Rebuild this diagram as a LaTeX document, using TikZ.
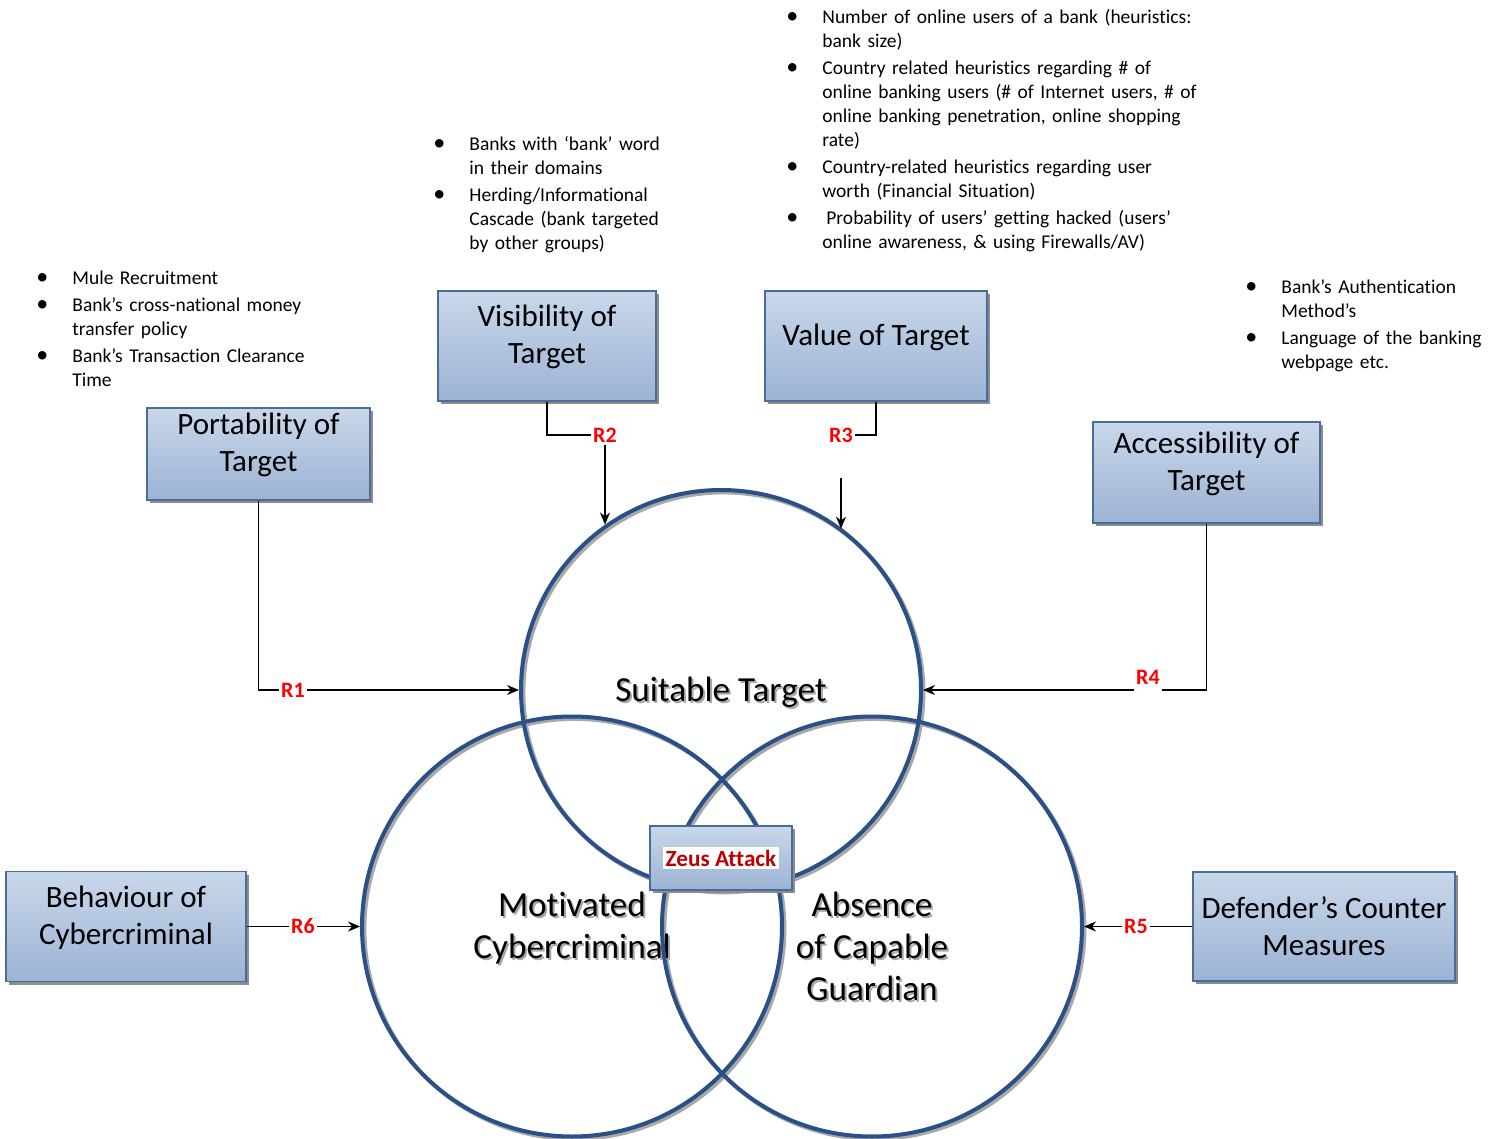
\documentclass[tikz,border=0pt]{standalone}
\usepackage{fontspec}
\setmainfont{Carlito}[Ligatures={NoCommon}]
\usetikzlibrary{arrows.meta,
							calc,
							positioning,
							shadows,
							backgrounds}

\definecolor{boxtop}{HTML}{C9D7EA}
\definecolor{boxbot}{HTML}{9CB3D4}
\definecolor{boxline}{HTML}{4A6C9B}
\definecolor{ringblue}{HTML}{2A5088}
\definecolor{ringshade}{HTML}{A8A8A8}
\definecolor{labred}{HTML}{FF0000}
\definecolor{zeusred}{HTML}{C00000}

% text with a soft grey shadow (circle titles)
\newcommand\shtxt[1]{\rlap{\kern1pt\raisebox{-1pt}{\textcolor{ringshade}{#1}}}#1}
% white patch behind the attack name
\newcommand\zeustag[1]{{\setlength\fboxsep{1.2pt}%
	\colorbox{white}{\textcolor{zeusred}{\bfseries\fontsize{11.6}{14}\selectfont #1}}}}
% bullet lists beside the factor boxes
\newenvironment{hintlist}
	{\begin{list}{{\fontsize{12}{12}\selectfont\textbullet}}{%
		\setlength\leftmargin{18pt}\setlength\labelwidth{18pt}%
		\setlength\labelsep{0pt}\setlength\itemsep{1.5pt}%
		\setlength\parsep{0pt}\setlength\topsep{0pt}%
		\setlength\partopsep{0pt}%
		\renewcommand\makelabel[1]{##1\hfil}}}
	{\end{list}}

\begin{document}
\begin{tikzpicture}[x=0.5pt, y=-0.5pt,
			factor/.style = {draw=boxline, line width=0.6pt,
									 top color=boxtop, bottom color=boxbot,
									 drop shadow={shadow xshift=1.6pt, shadow yshift=-1.6pt,
																fill=black!45, opacity=1},
									 inner sep=0pt},
	factortext/.style = {align=center, font=\fontsize{15.5}{18.6}\selectfont},
				venn/.style = {circle, draw=ringblue, line width=2pt, inner sep=0pt},
	 vennshade/.style = {draw=ringshade, line width=2pt},
		venntext/.style = {align=center, font=\fontsize{17.6}{21}\selectfont},
				rlab/.style = {fill=white, inner sep=1pt, text=labred,
									 font=\fontsize{11}{13}\selectfont\bfseries},
				conn/.style = {line width=0.8pt},
				 arr/.style = {conn, -{Stealth[length=6pt, width=5pt]}},
		 listbox/.style = {anchor=north west, inner sep=0pt, align=left,
									 font=\fontsize{9.75}{12}\selectfont}]
\useasboundingbox (0,0) rectangle (1493,1139);

% notes above the factors
\node [listbox, text width=150pt] (port-l) at (36,260) {\begin{hintlist}
	\item Mule Recruitment
	\item Bank’s cross-national money\newline transfer policy
	\item Bank’s Transaction Clearance\newline Time
	\end{hintlist}};
\node [listbox, text width=130pt] (vis-l) at (433,126) {\begin{hintlist}
	\item Banks with ‘bank’ word\newline in their domains
	\item Herding/Informational\newline Cascade (bank targeted\newline by other groups)
	\end{hintlist}};
\node [listbox, text width=215pt] (val-l) at (786,-1) {\begin{hintlist}
	\item Number of online users of a bank (heuristics:\newline bank size)
	\item Country related heuristics regarding \# of\newline online banking users (\# of Internet users, \# of\newline online banking penetration, online shopping\newline rate)
	\item Country-related heuristics regarding user\newline worth (Financial Situation)
	\item \leavevmode\kern2pt Probability of users’ getting hacked (users’\newline online awareness, \& using Firewalls/AV)
	\end{hintlist}};
\node [listbox, text width=120pt] (acc-l) at (1245,269) {\begin{hintlist}
	\item Bank’s Authentication\newline Method’s
	\item Language of the banking\newline webpage etc.
	\end{hintlist}};

% factor boxes
\node [factor, minimum width=109pt, minimum height=55pt]   (vis)  at (547,346) {};
\node [factor, minimum width=111pt, minimum height=55pt]   (val)  at (876,346) {};
\node [factor, minimum width=111.5pt, minimum height=46pt] (port) at (258.5,454) {};
\node [factor, minimum width=113.5pt, minimum height=50.5pt] (acc) at (1206.5,472.5) {};
\node [factor, minimum width=120pt, minimum height=55pt]   (beh)  at (126,926.5) {};
\node [factor, minimum width=131pt, minimum height=54.5pt] (def)  at (1324,926.5) {};
%
\node [factortext, yshift=4.5pt] (vis-t)  at (vis)  {Visibility of\\Target};
\node [factortext, yshift=4.5pt] (val-t)  at (val)  {Value of Target};
\node [factortext, yshift=4.5pt] (port-t) at (port) {Portability of\\Target};
\node [factortext, yshift=4.5pt] (acc-t)  at (acc)  {Accessibility of\\Target};
\node [factortext, yshift=4.5pt] (beh-t)  at (beh)  {Behaviour of\\Cybercriminal};
\node [factortext]               (def-t)  at (def)  {Defender’s Counter\\Measures};

% circle titles
\node [venntext] (suit-t) at (721,693)   {\shtxt{Suitable Target}};
\node [venntext] (mot-t)  at (572,929)   {\shtxt{Motivated}\\\shtxt{Cybercriminal}};
\node [venntext] (abs-t)  at (872,947.5) {\shtxt{Absence}\\\shtxt{of Capable}\\\shtxt{Guardian}};

% the three circles
\node [venn, minimum size=200pt] (suit) at (721,690)   {};
\node [venn, minimum size=210pt] (mot)  at (572,926.5) {};
\node [venn, minimum size=210pt] (abs)  at (872,926.5) {};
\begin{pgfonlayer}{background}
\draw [vennshade] ([shift={(1.2pt,-1.2pt)}] suit.center) circle (100pt);
\draw [vennshade] ([shift={(1.2pt,-1.2pt)}] mot.center)  circle (105pt);
\draw [vennshade] ([shift={(1.2pt,-1.2pt)}] abs.center)  circle (105pt);
\end{pgfonlayer}

% relation labels
\node [rlab] (r1) at (293,690)    {R1};
\node [rlab] (r2) at (605,435)    {R2};
\node [rlab] (r3) at (841,435)    {R3};
\node [rlab] (r4) at (1148,677)   {R4};
\node [rlab] (r5) at (1136,926.5) {R5};
\node [rlab] (r6) at (303,926.5)  {R6};
\coordinate (r3in) at (841,478);    % <-- loose start of the R3 arrow

\draw [conn] (port.south) |- (r1.west);
\draw [arr]  (r1.east) -- (suit.west);
\draw [conn] (vis.south) |- (r2.west);
\draw [arr]  (r2.south) -- (r2.south |- suit.125.4);
\draw [conn] (val.south) |- (r3.east);
\draw [arr]  (r3in) -- (r3in |- suit.53.1);
\draw [conn] (acc.south) |- (r4.east |- suit.east);
\draw [arr]  (r4.west |- suit.east) -- (suit.east);
\draw [conn] (def.west) -- (r5.east);
\draw [arr]  (r5.west) -- (abs.east);
\draw [conn] (beh.east) -- (r6.west);
\draw [arr]  (r6.east) -- (mot.west);

% the attack in the middle
\node [factor, minimum width=71pt, minimum height=32pt] (zeus) at (721,858) {\zeustag{Zeus Attack}};
\end{tikzpicture}
\end{document}
